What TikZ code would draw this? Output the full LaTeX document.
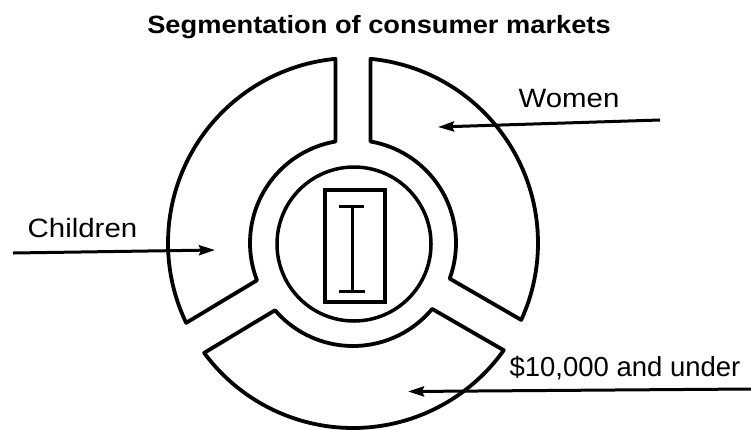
\documentclass[tikz,border=0pt]{standalone}
\usepackage{fontspec}
\setmainfont{Liberation Sans}
\newfontfamily\widefont[FakeStretch=1.11]{Liberation Sans}
\newfontfamily\titlefont[FakeStretch=1.09]{Liberation Sans}
\usetikzlibrary{arrows.meta}
\tikzset{
  seg/.style={line width=3.8pt, line join=round},
  ring/.style={draw, line width=3.5pt, inner sep=0pt, outer sep=0pt},
  beam/.style={line width=3pt},
  pointer/.style={line width=3pt, -{Stealth[length=16pt,width=10pt,inset=2pt]}},
  lbl/.style={font=\widefont\fontsize{26.5}{30}\selectfont, inner sep=0pt, anchor=base},
  lblplain/.style={font=\fontsize{27.5}{30}\selectfont, inner sep=0pt, anchor=base},
  ttl/.style={font=\titlefont\bfseries\fontsize{25}{30}\selectfont, inner sep=0pt, anchor=base}
}
\begin{document}
\begin{tikzpicture}[x=1pt,y=1pt]
\useasboundingbox (0,0) rectangle (751,-429);
\coordinate (c) at (353,-243);
\def\Ro{185}
\def\Ri{103}
\pgfmathsetmacro\ao{asin(17.5/185)}
\pgfmathsetmacro\ai{asin(17.5/103)}
% three annular segments
\foreach \a/\b in {330/450, 90/211, 211/330}{
  \draw[seg] ([shift={(\a+\ao:\Ro)}]c)
     arc[start angle=\a+\ao, end angle=\b-\ao, radius=\Ro]
     -- ([shift={(\b-\ai:\Ri)}]c)
     arc[start angle=\b-\ai, end angle=\a+\ai, radius=\Ri] -- cycle;
}
% hub
\node[ring, circle, minimum size=154pt] (hub) at (354,-244) {};
\node[ring, rectangle, minimum width=60pt, minimum height=112pt] (box) at (355,-246) {};
\draw[beam] ([shift={(-3,40)}]box.center) -- ([shift={(-3,-45)}]box.center);
\draw[beam] ([shift={(-16,40)}]box.center) -- ([shift={(9,40)}]box.center);
\draw[beam] ([shift={(-16,-45)}]box.center) -- ([shift={(10,-45)}]box.center);
% title
\node[ttl] (title) at (379,-33) {Segmentation of consumer markets};
% labels
\node[lbl] (women) at (569,-107) {Women};
\node[lbl] (children) at (82.5,-237.5) {Children};
\node[lblplain] (income) at (625,-376.5) {\$10,000 and under};
% arrows
\coordinate (wS) at (660,-120);
\coordinate (wT) at (438,-127);
\coordinate (cS) at (13,-253);
\coordinate (cT) at (215,-250);
\coordinate (iS) at (751,-389);
\coordinate (iT) at (408,-391.5);
\draw[pointer] (wS) -- (wT);
\draw[pointer] (cS) -- (cT);
\draw[pointer] (iS) -- (iT);
\end{tikzpicture}
\end{document}
